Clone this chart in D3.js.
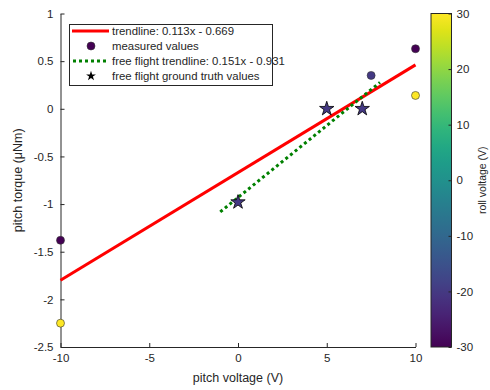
<!DOCTYPE html>
<html>
<head>
<meta charset="utf-8">
<script src="https://cdn.jsdelivr.net/npm/d3@7"></script>
<style>
  body { margin: 0; background: #fff; }
  text { font-family: "Liberation Sans", Arial, sans-serif; fill: #262626; }
</style>
</head>
<body>
<div id="chart"></div>
<script>
// measured values: pitch voltage, torque, roll voltage
var measX = [-10, -10, 10, 10, 7.5];
var measY = [-1.38, -2.25, 0.63, 0.14, 0.35];
var measRoll = [-30, 30, -30, 30, -20];

// free flight ground truth values
var ffX = [0, 5, 7];
var ffY = [-0.98, 0, 0];
var ffRoll = [-20, -20, -20];

var trend = { slope: 0.113, icpt: -0.669, from: -10, to: 10 };
var ffTrend = { slope: 0.151, icpt: -0.931, from: -1, to: 8 };

var xTicks = [-10, -5, 0, 5, 10];
var yTicks = [-2.5, -2, -1.5, -1, -0.5, 0, 0.5, 1];
var cTicks = [-30, -20, -10, 0, 10, 20, 30];

var W = 490, H = 390;
var plot = { left: 60.5, right: 415.5, top: 13.5, bottom: 347 };
var cbar = { left: 431, right: 451.5 };

var svg = d3.select("#chart").append("svg").attr("width", W).attr("height", H);

var x = d3.scaleLinear().domain([-10, 10]).range([plot.left, plot.right]);
var y = d3.scaleLinear().domain([-2.5, 1]).range([plot.bottom, plot.top]);
var c = d3.scaleLinear().domain([-30, 30]).range([plot.bottom, plot.top]);
var color = function (v) { return d3.interpolateViridis((v + 30) / 60); };
var plain = function (d) { return String(d); };  // hyphen minus like matlab

// axes
var xAxis = svg.append("g").attr("transform", "translate(0," + plot.bottom + ")")
  .call(d3.axisBottom(x).tickValues(xTicks).tickSizeInner(-4).tickSizeOuter(0).tickPadding(7)
    .tickFormat(plain));
var yAxis = svg.append("g").attr("transform", "translate(" + plot.left + ",0)")
  .call(d3.axisLeft(y).tickValues(yTicks).tickSizeInner(-4).tickSizeOuter(0).tickPadding(7)
    .tickFormat(plain));
[xAxis, yAxis].forEach(function (a) {
  a.selectAll("path,line").attr("stroke", "#262626");
  a.selectAll("text").attr("font-size", 11.5).attr("font-family", "Liberation Sans, Arial, sans-serif").attr("fill", "#262626");
});

svg.append("text").attr("x", (plot.left + plot.right) / 2).attr("y", 382)
  .attr("text-anchor", "middle").attr("font-size", 12.5).text("pitch voltage (V)");
svg.append("text").attr("transform", "translate(22," + (plot.top + plot.bottom) / 2 + ") rotate(-90)")
  .attr("text-anchor", "middle").attr("font-size", 12.5).text("pitch torque (\u03bcNm)");

// trendlines
function seg(t) {
  return [[t.from, t.slope * t.from + t.icpt], [t.to, t.slope * t.to + t.icpt]];
}
var line = d3.line().x(function (d) { return x(d[0]); }).y(function (d) { return y(d[1]); });

svg.append("path").attr("d", line(seg(trend)))
  .attr("stroke", "#ff0000").attr("stroke-width", 3).attr("fill", "none");
svg.append("path").attr("d", line(seg(ffTrend)))
  .attr("stroke", "#008000").attr("stroke-width", 3).attr("stroke-dasharray", "3,3").attr("fill", "none");

// measured points
svg.append("g").selectAll("circle").data(measX).enter().append("circle")
  .attr("cx", function (d) { return x(d); })
  .attr("cy", function (d, i) { return y(measY[i]); })
  .attr("r", 4)
  .attr("fill", function (d, i) { return color(measRoll[i]); })
  .attr("stroke", "#333").attr("stroke-width", 0.6);

// free flight stars
var star = d3.symbol().type(d3.symbolStar).size(64);
svg.append("g").selectAll("path").data(ffX).enter().append("path")
  .attr("d", star)
  .attr("transform", function (d, i) { return "translate(" + x(d) + "," + y(ffY[i]) + ")"; })
  .attr("fill", function (d, i) { return color(ffRoll[i]); })
  .attr("stroke", "#000").attr("stroke-width", 0.8);

// legend
var lg = svg.append("g");
lg.append("rect").attr("x", 69.5).attr("y", 24.5).attr("width", 203).attr("height", 61)
  .attr("fill", "#fff").attr("stroke", "#262626").attr("stroke-width", 1);
var rows = [31, 46, 61, 76];
var labels = ["trendline: 0.113x - 0.669", "measured values",
  "free flight trendline: 0.151x - 0.931", "free flight ground truth values"];
lg.append("line").attr("x1", 72).attr("x2", 109).attr("y1", rows[0]).attr("y2", rows[0])
  .attr("stroke", "#ff0000").attr("stroke-width", 3);
lg.append("circle").attr("cx", 91).attr("cy", rows[1]).attr("r", 4)
  .attr("fill", color(-30)).attr("stroke", "#333").attr("stroke-width", 0.6);
lg.append("line").attr("x1", 73).attr("x2", 109).attr("y1", rows[2]).attr("y2", rows[2])
  .attr("stroke", "#008000").attr("stroke-width", 3).attr("stroke-dasharray", "3,3");
lg.append("path").attr("d", d3.symbol().type(d3.symbolStar).size(30))
  .attr("transform", "translate(91," + rows[3] + ")").attr("fill", "#000");
lg.selectAll("text.lab").data(labels).enter().append("text")
  .attr("x", 112).attr("y", function (d, i) { return rows[i] + 4; })
  .attr("font-size", 11.4).text(function (d) { return d; });

// colorbar
var defs = svg.append("defs");
var grad = defs.append("linearGradient").attr("id", "vir")
  .attr("x1", 0).attr("y1", 1).attr("x2", 0).attr("y2", 0);
d3.range(0, 1.0001, 0.05).forEach(function (t) {
  grad.append("stop").attr("offset", t).attr("stop-color", d3.interpolateViridis(t));
});
svg.append("rect").attr("x", cbar.left).attr("y", plot.top)
  .attr("width", cbar.right - cbar.left).attr("height", plot.bottom - plot.top)
  .attr("fill", "url(#vir)").attr("stroke", "#262626").attr("stroke-width", 1);
var cAxis = svg.append("g").attr("transform", "translate(" + cbar.right + ",0)")
  .call(d3.axisRight(c).tickValues(cTicks).tickSizeInner(-3).tickSizeOuter(0).tickPadding(5)
    .tickFormat(plain));
cAxis.select("path").remove();
cAxis.selectAll("line").attr("stroke", "#262626");
cAxis.selectAll("text").attr("font-size", 11.5).attr("font-family", "Liberation Sans, Arial, sans-serif").attr("fill", "#262626");
svg.append("text").attr("transform", "translate(486," + (plot.top + plot.bottom) / 2 + ") rotate(-90)")
  .attr("text-anchor", "middle").attr("font-size", 10.5).text("roll voltage (V)");
</script>
</body>
</html>
